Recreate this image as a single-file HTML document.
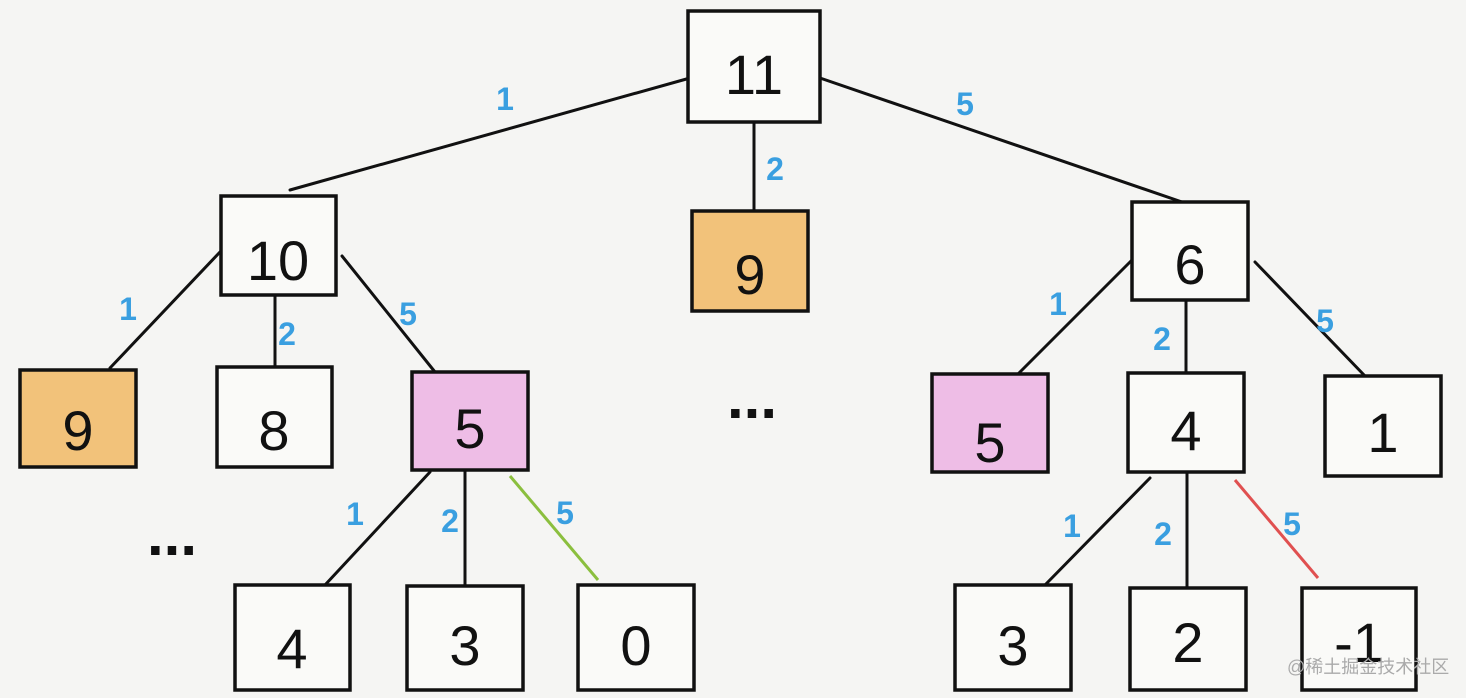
<!DOCTYPE html>
<html><head><meta charset="utf-8"><style>
html,body{margin:0;padding:0;background:#f5f5f3;}
svg{display:block}
</style></head><body>
<svg width="1466" height="698" viewBox="0 0 1466 698" xmlns="http://www.w3.org/2000/svg">
<rect width="1466" height="698" fill="#f5f5f3"/>
<g stroke="#111" stroke-width="3" fill="none" stroke-linecap="round">
<line x1="690" y1="78" x2="290" y2="190"/>
<line x1="820" y1="78" x2="1182" y2="202"/>
<line x1="754" y1="122" x2="754" y2="211"/>
<line x1="220" y1="252" x2="110" y2="368"/>
<line x1="275" y1="296" x2="275" y2="367"/>
<line x1="342" y1="256" x2="435" y2="372"/>
<line x1="430" y1="472" x2="325" y2="585"/>
<line x1="465" y1="470" x2="465" y2="586"/>
<line x1="1132" y1="260" x2="1018" y2="374"/>
<line x1="1186" y1="300" x2="1186" y2="373"/>
<line x1="1255" y1="262" x2="1365" y2="376"/>
<line x1="1150" y1="478" x2="1045" y2="585"/>
<line x1="1187" y1="472" x2="1187" y2="588"/>
</g>
<line x1="510" y1="476" x2="598" y2="580" stroke="#8bbf3e" stroke-width="3"/>
<line x1="1235" y1="480" x2="1318" y2="578" stroke="#e05050" stroke-width="3"/>
<g stroke="#111" stroke-width="3.5">
<rect x="688" y="11" width="132" height="111" fill="#fafaf8"/>
<rect x="221" y="196" width="115" height="99" fill="#fafaf8"/>
<rect x="692" y="211" width="116" height="100" fill="#f2c27a"/>
<rect x="1132" y="202" width="116" height="98" fill="#fafaf8"/>
<rect x="20" y="370" width="116" height="97" fill="#f2c27a"/>
<rect x="217" y="367" width="115" height="100" fill="#fafaf8"/>
<rect x="412" y="372" width="116" height="98" fill="#eebde6"/>
<rect x="932" y="374" width="116" height="98" fill="#eebde6"/>
<rect x="1128" y="373" width="116" height="99" fill="#fafaf8"/>
<rect x="1325" y="376" width="116" height="100" fill="#fafaf8"/>
<rect x="235" y="585" width="115" height="105" fill="#fafaf8"/>
<rect x="407" y="586" width="116" height="104" fill="#fafaf8"/>
<rect x="578" y="585" width="116" height="105" fill="#fafaf8"/>
<rect x="955" y="585" width="116" height="105" fill="#fafaf8"/>
<rect x="1130" y="588" width="116" height="102" fill="#fafaf8"/>
<rect x="1302" y="588" width="114" height="102" fill="#fafaf8"/>
</g>
<g font-family="Liberation Sans, sans-serif" font-size="56" fill="#111" text-anchor="middle">
<text x="754" y="94">11</text>
<text x="278" y="280">10</text>
<text x="750" y="294">9</text>
<text x="1190" y="284">6</text>
<text x="78" y="450">9</text>
<text x="274" y="450">8</text>
<text x="470" y="448">5</text>
<text x="990" y="462">5</text>
<text x="1186" y="450">4</text>
<text x="1383" y="452">1</text>
<text x="292" y="668">4</text>
<text x="465" y="665">3</text>
<text x="636" y="665">0</text>
<text x="1013" y="665">3</text>
<text x="1188" y="662">2</text>
<text x="1359" y="662">-1</text>
</g>
<g font-family="Liberation Sans, sans-serif" font-size="32" font-weight="bold" fill="#3a9fe0" text-anchor="middle">
<text x="505" y="110">1</text>
<text x="965" y="115">5</text>
<text x="775" y="180">2</text>
<text x="128" y="320">1</text>
<text x="287" y="345">2</text>
<text x="408" y="325">5</text>
<text x="1058" y="315">1</text>
<text x="1162" y="350">2</text>
<text x="1325" y="332">5</text>
<text x="355" y="525">1</text>
<text x="450" y="532">2</text>
<text x="565" y="524">5</text>
<text x="1072" y="537">1</text>
<text x="1163" y="545">2</text>
<text x="1292" y="535">5</text>
</g>
<g font-family="Liberation Sans, sans-serif" font-size="60" font-weight="bold" fill="#111" text-anchor="middle">
<text x="172" y="555">...</text>
<text x="752" y="418">...</text>
</g>
<text x="1287" y="673" font-family="Liberation Sans, Noto Sans CJK SC, sans-serif" font-size="18" fill="#aaaaaa">@稀土掘金技术社区</text>
</svg>
</body></html>
